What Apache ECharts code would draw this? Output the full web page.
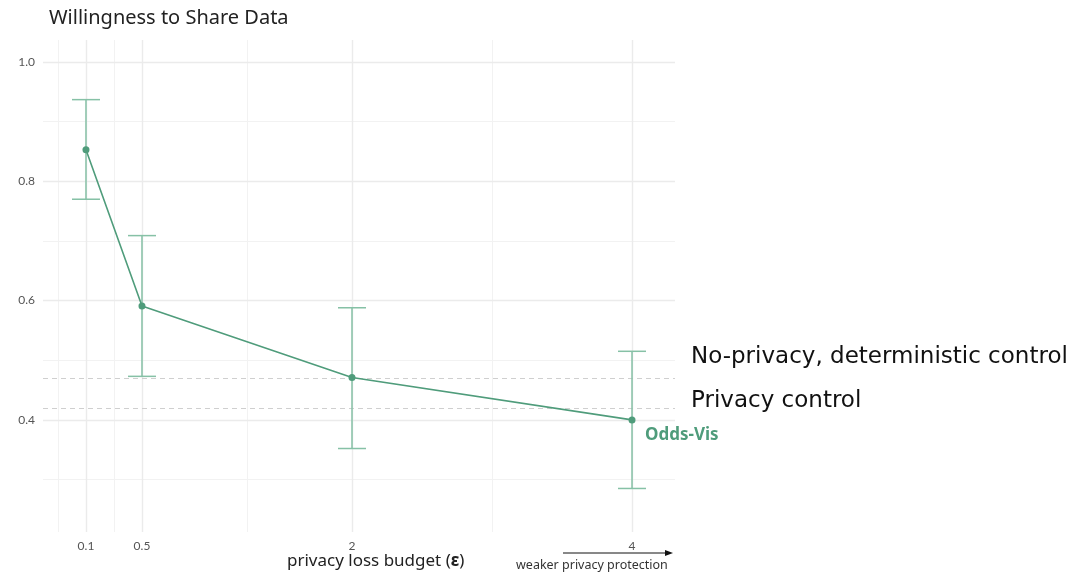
<!DOCTYPE html>
<html>
<head>
<meta charset="utf-8">
<script src="https://cdn.jsdelivr.net/npm/echarts@6/dist/echarts.min.js"></script>
<style>
  html, body { margin: 0; padding: 0; background: #fff; }
  #chart { width: 1074px; height: 574px; }
</style>
</head>
<body>
<div id="chart"></div>
<script>
// epsilon values and willingness estimates
var epsilons = [0.1, 0.5, 2, 4];
var means = [0.853, 0.591, 0.471, 0.400];
var upper = [0.937, 0.709, 0.588, 0.515];
var lower = [0.770, 0.473, 0.352, 0.285];

// control group levels (dashed lines)
var controlNames = ['No-privacy, deterministic control', 'Privacy control'];
var controlValues = [0.469, 0.416];

var xTicks = [0.1, 0.5, 2, 4];
var xMinor = [-0.1, 0.3, 1.25, 3];
var yTicks = [0.4, 0.6, 0.8, 1.0];
var yMinor = [0.3, 0.5, 0.7, 0.9];

var green = '#4f9c7b';
var barGreen = '#86c1a6';
var font = '"Noto Sans", sans-serif';

var chart = echarts.init(document.getElementById('chart'));

function gridLines(vals, axis, width, color) {
  return vals.map(function (v) {
    var o = { lineStyle: { color: color, width: width, type: 'solid' } };
    o[axis] = v;
    return o;
  });
}

var gridData = []
  .concat(gridLines(xMinor, 'xAxis', 1, '#f2f2f2'))
  .concat(gridLines(yMinor, 'yAxis', 1, '#f2f2f2'))
  .concat(gridLines(xTicks, 'xAxis', 1.4, '#ebebeb'))
  .concat(gridLines(yTicks, 'yAxis', 1.4, '#ebebeb'));

var errData = epsilons.map(function (e, i) { return [e, lower[i], upper[i]]; });
var lineData = epsilons.map(function (e, i) { return [e, means[i]]; });

var option = {
  backgroundColor: '#fff',
  animation: false,
  grid: { left: 43, right: 399, top: 40, bottom: 42 },
  xAxis: {
    type: 'value',
    min: -0.207,
    max: 4.307,
    axisLine: { show: false },
    axisTick: { show: false },
    splitLine: { show: false },
    axisLabel: {
      customValues: xTicks,
      color: '#555',
      fontSize: 12,
      fontFamily: 'Lato, sans-serif',
      margin: 8,
      formatter: function (v) { return String(v); }
    }
  },
  yAxis: {
    type: 'value',
    min: 0.212,
    max: 1.037,
    axisLine: { show: false },
    axisTick: { show: false },
    splitLine: { show: false },
    axisLabel: {
      customValues: yTicks,
      color: '#555',
      fontSize: 12,
      fontFamily: 'Lato, sans-serif',
      margin: 8,
      formatter: function (v) { return v.toFixed(1); }
    }
  },
  series: [
    {
      type: 'line',
      data: [],
      silent: true,
      z: 0,
      markLine: {
        silent: true,
        z: 0,
        symbol: 'none',
        label: { show: false },
        data: gridData
      }
    },
    {
      type: 'line',
      data: [],
      silent: true,
      z: 1,
      markLine: {
        silent: true,
        z: 1,
        symbol: 'none',
        label: { show: false },
        lineStyle: { color: '#cfcfcf', width: 1, type: [5, 4] },
        data: controlValues.map(function (v) { return { yAxis: v }; })
      }
    },
    {
      type: 'custom',
      z: 10,
      data: errData,
      renderItem: function (params, api) {
        var x = api.value(0);
        var lo = api.coord([x, api.value(1)]);
        var hi = api.coord([x, api.value(2)]);
        var cap = 14;
        var st = { stroke: barGreen, lineWidth: 1.5 };
        return {
          type: 'group',
          children: [
            { type: 'line', shape: { x1: lo[0], y1: lo[1], x2: hi[0], y2: hi[1] }, style: st },
            { type: 'line', shape: { x1: hi[0] - cap, y1: hi[1], x2: hi[0] + cap, y2: hi[1] }, style: st },
            { type: 'line', shape: { x1: lo[0] - cap, y1: lo[1], x2: lo[0] + cap, y2: lo[1] }, style: st }
          ]
        };
      }
    },
    {
      type: 'line',
      z: 12,
      data: lineData,
      symbol: 'circle',
      symbolSize: 7,
      itemStyle: { color: green },
      lineStyle: { color: green, width: 1.6 },
      endLabel: {
        show: true,
        formatter: 'Odds-Vis',
        color: green,
        fontWeight: 'bold',
        fontSize: 17,
        fontFamily: font,
        offset: [5, 15]
      }
    }
  ],
  graphic: [
    {
      type: 'text', left: 49, top: 8,
      style: { text: 'Willingness to Share Data', fontSize: 20, fontFamily: font, fill: '#222' }
    },
    {
      type: 'text', left: 287, top: 553,
      style: {
        text: '{a|privacy loss budget (}{b|ε}{a|)}',
        rich: {
          a: { fontSize: 17, fontFamily: font, fill: '#222' },
          b: { fontSize: 17, fontFamily: font, fill: '#222', fontWeight: 'bold' }
        }
      }
    },
    {
      type: 'text', left: 516, top: 559,
      style: { text: 'weaker privacy protection', fontSize: 12.5, fontFamily: font, fill: '#333' }
    },
    {
      type: 'line',
      shape: { x1: 563, y1: 553, x2: 667, y2: 553 },
      style: { stroke: '#111', lineWidth: 1 }
    },
    {
      type: 'polygon',
      shape: { points: [[673, 553], [665, 550], [665, 556]] },
      style: { fill: '#111' }
    },
    {
      type: 'text', left: 691, top: 346,
      style: { text: controlNames[0], fontSize: 23, fontFamily: '"DejaVu Sans", sans-serif', fill: '#111' }
    },
    {
      type: 'text', left: 691, top: 390,
      style: { text: controlNames[1], fontSize: 23, fontFamily: '"DejaVu Sans", sans-serif', fill: '#111' }
    }
  ]
};

chart.setOption(option);
</script>
</body>
</html>
